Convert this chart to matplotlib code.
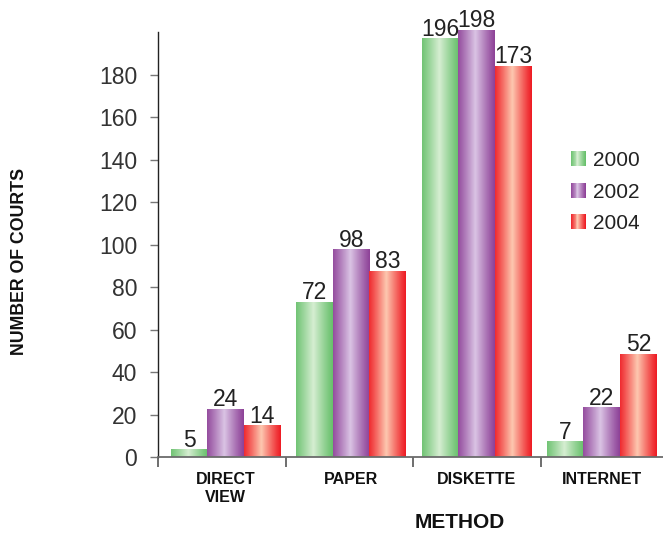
import numpy as np
import matplotlib
matplotlib.use("Agg")
import matplotlib.pyplot as plt
from matplotlib.patches import Rectangle
from matplotlib.legend_handler import HandlerBase

# ---------------- data ----------------
categories = ["DIRECT\nVIEW", "PAPER", "DISKETTE", "INTERNET"]
years = ["2000", "2002", "2004"]
# bar heights as drawn in the reference
heights_2000 = [3.4, 72.8, 196.9, 7.2]
heights_2002 = [22.6, 97.6, 201.0, 23.2]
heights_2004 = [14.7, 87.4, 183.8, 48.2]
# value labels printed above the bars
labels_2000 = [5, 72, 196, 7]
labels_2002 = [24, 98, 198, 22]
labels_2004 = [14, 83, 173, 52]
yticks = [0, 20, 40, 60, 80, 100, 120, 140, 160, 180]

heights = [heights_2000, heights_2002, heights_2004]
labels = [labels_2000, labels_2002, labels_2004]

# (edge colour, light centre colour) for the cylinder-like gradient
palette = [
    ((104, 192, 108), (214, 238, 210)),
    ((142, 66, 152), (218, 196, 228)),
    ((238, 28, 36), (253, 200, 176)),
]

plt.rcParams['font.family'] = ['Liberation Sans', 'DejaVu Sans']


def gradient_colors(edge, light, n=64):
    t = np.linspace(0, 1, n)
    mix = np.clip(1 - np.abs(t - 0.47) / 0.53, 0, 1) ** 1.1
    e = np.array(edge) / 255.0
    l = np.array(light) / 255.0
    return e[None, :] * (1 - mix[:, None]) + l[None, :] * mix[:, None]


fig = plt.figure(figsize=(6.63, 5.37), dpi=100)
ax = fig.add_axes([158 / 663, 1 - 457.3 / 537, 510 / 663, (457.3 - 31.7) / 537])

n_cat = len(categories)
x = np.arange(n_cat)
w = 0.287
group_shift = np.array([0.03, 0.015, 0.0, -0.02])  # layout nudge per group

for j, (hs, labs) in enumerate(zip(heights, labels)):
    pos = x + group_shift + (j - 1) * w
    bars = ax.bar(pos, hs, width=w, color=np.array(palette[j][0]) / 255.0,
                  linewidth=0, zorder=2, clip_on=False)
    grad = gradient_colors(*palette[j])[None, :, :]
    for b, lab in zip(bars, labs):
        x0, y0 = b.get_x(), b.get_y()
        ax.imshow(grad, extent=[x0, x0 + b.get_width(), y0, y0 + b.get_height()],
                  aspect='auto', interpolation='bilinear', zorder=3, clip_on=False)
        ax.annotate(str(lab), (x0 + b.get_width() / 2, b.get_height()),
                    xytext=(0, 2.5), textcoords='offset points',
                    ha='center', va='baseline', fontsize=16.5, color='#222222',
                    annotation_clip=False)

ax.set_xlim(-0.5, n_cat - 0.5)
ax.set_ylim(0, 200.4)

# axes styling
for s in ['top', 'right']:
    ax.spines[s].set_visible(False)
ax.spines['left'].set_color('#222222')
ax.spines['left'].set_linewidth(1.0)
ax.spines['bottom'].set_color('#6b6b6b')
ax.spines['bottom'].set_linewidth(1.3)
ax.spines['bottom'].set_zorder(5)

ax.set_yticks(yticks)
ax.set_yticklabels([str(v) for v in yticks])
ax.tick_params(axis='y', direction='out', length=6, width=1.0, color='#777777',
               labelsize=16.5, labelcolor='#333333', pad=9)

# category boundaries as major ticks, labels at centres as minor ticks
ax.set_xticks(np.arange(-0.5, n_cat - 0.5, 1.0))
ax.set_xticklabels([])
ax.tick_params(axis='x', which='major', direction='out', length=7, width=1.2,
               color='#555555')
ax.set_xticks(x + group_shift, minor=True)
ax.set_xticklabels(categories, minor=True, fontweight='bold', fontsize=11.5,
                   color='#111111', linespacing=1.3)
ax.tick_params(axis='x', which='minor', length=0, pad=10.5)


# legend with gradient swatches
class GradHandler(HandlerBase):
    def __init__(self, cols):
        super().__init__()
        self.cols = cols

    def create_artists(self, legend, orig_handle, xdescent, ydescent, width,
                       height, fontsize, trans):
        n = len(self.cols)
        arts = []
        for k, c in enumerate(self.cols):
            r = Rectangle((-xdescent + width * k / n, -ydescent), width / n + 0.3,
                          height, facecolor=c, edgecolor='none', transform=trans)
            arts.append(r)
        return arts


handles = [Rectangle((0, 0), 1, 1) for _ in years]
hmap = {h: GradHandler(gradient_colors(*palette[j], n=16)) for j, h in enumerate(handles)}
leg = fig.legend(handles, years, handler_map=hmap, loc='center left',
                 bbox_to_anchor=(571 / 663, 1 - 192 / 537), frameon=False,
                 fontsize=15, handlelength=0.7, handleheight=0.7,
                 handletextpad=0.35, labelspacing=0.6, borderpad=0,
                 borderaxespad=0)
for t in leg.get_texts():
    t.set_color('#222222')

fig.text(20 / 663, 1 - 261 / 537, "NUMBER OF COURTS", rotation=90,
         ha='center', va='center', fontsize=12.8, fontweight='bold', color='#111111')
fig.text(460 / 663, 1 - 522 / 537, "METHOD", ha='center', va='center',
         fontsize=15, fontweight='bold', color='#111111')

fig.savefig("out.png", dpi=100)
